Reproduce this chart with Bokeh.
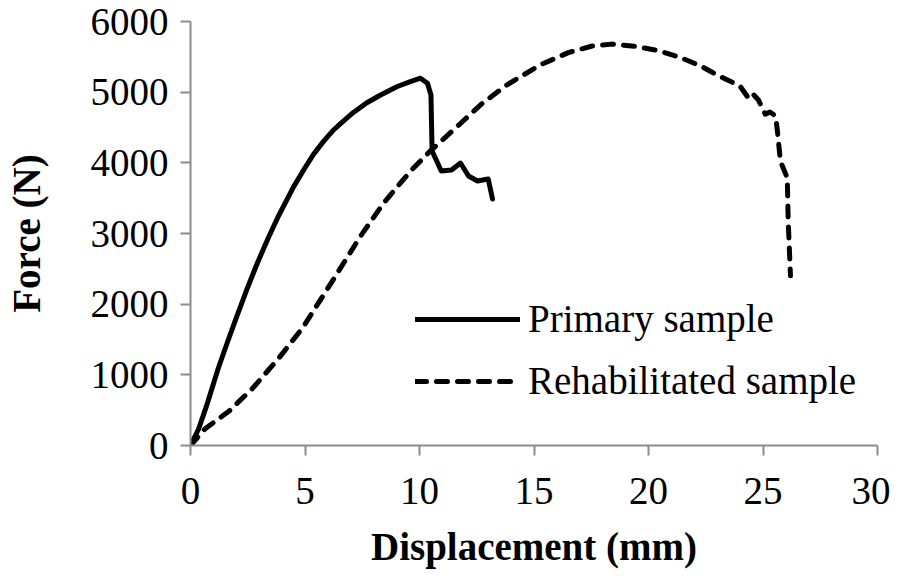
from bokeh.plotting import figure
from bokeh.models import Range1d, Legend, LegendItem, FixedTicker
from bokeh.embed import file_html
from bokeh.resources import INLINE

# Primary sample (displacement mm, force N)
primary_x = [0, 0.35, 0.7, 1.22, 1.6, 1.97, 2.45, 2.93, 3.4, 3.8, 4.5, 5.0, 5.37, 5.8, 6.2, 6.6, 7.1,
             7.7, 8.3, 9.03, 9.6, 10.04, 10.35, 10.5, 10.55, 10.95, 11.4, 11.79, 12.14, 12.53, 13.0, 13.19]
primary_y = [0, 230, 560, 1100, 1450, 1780, 2200, 2590, 2940, 3220, 3660, 3930, 4120, 4300, 4450, 4570, 4710,
             4850, 4960, 5080, 5150, 5198, 5127, 4960, 4167, 3884, 3900, 3997, 3814, 3743, 3771, 3489]

# Rehabilitated sample
rehab_x = [0, 0.65, 1.66, 2.7, 3.84, 4.9, 6.2, 7.42, 8.43, 9.6, 10.48, 11.8, 12.7, 13.8, 15.3, 16.5,
           17.5, 18.4, 19.4, 20.4, 21.4, 22.3, 23.1, 24.0, 24.4, 24.6, 24.8, 25.1, 25.3, 25.55,
           25.63, 25.76, 26.06, 26.1, 26.2]
rehab_y = [0, 240, 480, 805, 1230, 1667, 2330, 2960, 3430, 3880, 4170, 4560, 4830, 5100, 5390, 5560,
           5650, 5680, 5650, 5590, 5490, 5367, 5226, 5085, 4900, 4960, 4890, 4689, 4720, 4661,
           4449, 4025, 3785, 3178, 2401]

x_ticks = [0, 5, 10, 15, 20, 25, 30]
y_ticks = [0, 1000, 2000, 3000, 4000, 5000, 6000]

FONT = "Liberation Serif"
AXIS_COLOR = "#8c8c8c"
FS = "39px"

p = figure(output_backend="svg", toolbar_location=None,
           frame_width=687, frame_height=424,
           x_range=Range1d(0, 30), y_range=Range1d(0, 6000))
p.min_border_left = 190
p.min_border_top = 21
p.min_border_right = 13
p.min_border_bottom = 125
p.outline_line_color = None
p.xgrid.visible = False
p.ygrid.visible = False
p.background_fill_color = "white"
p.border_fill_color = "white"

r1 = p.line(primary_x, primary_y, line_color="black", line_width=5, line_join="round", line_cap="round")
r2 = p.line(rehab_x, rehab_y, line_color="black", line_width=5, line_dash="11 10", line_cap="round",
            line_join="round")

for ax, ticks in ((p.xaxis, x_ticks), (p.yaxis, y_ticks)):
    ax.ticker = FixedTicker(ticks=ticks)
    ax.axis_line_color = AXIS_COLOR
    ax.axis_line_width = 2
    ax.major_tick_line_color = AXIS_COLOR
    ax.major_tick_line_width = 2
    ax.major_tick_out = 10
    ax.major_tick_in = 0
    ax.minor_tick_line_color = None
    ax.major_label_text_font = FONT
    ax.major_label_text_font_size = FS
    ax.major_label_text_color = "black"
    ax.axis_label_text_font = FONT
    ax.axis_label_text_font_size = FS
    ax.axis_label_text_font_style = "bold"
    ax.axis_label_text_color = "black"

p.xaxis.axis_label = "Displacement (mm)"
p.yaxis.axis_label = "Force (N)"
p.xaxis.major_label_standoff = 22
p.yaxis.major_label_standoff = 12
p.xaxis.axis_label_standoff = 18
p.yaxis.axis_label_standoff = 40

legend = Legend(items=[LegendItem(label="Primary sample", renderers=[r1]),
                       LegendItem(label="Rehabilitated sample", renderers=[r2])],
                location=(225, 42))
legend.label_text_font = FONT
legend.label_text_font_size = FS
legend.label_text_color = "black"
legend.glyph_width = 105
legend.glyph_height = 40
legend.label_height = 40
legend.label_standoff = 8
legend.spacing = 17
legend.padding = 0
legend.margin = 0
legend.border_line_alpha = 0
legend.background_fill_alpha = 0
p.add_layout(legend)

open("out.html", "w").write(file_html(p, INLINE))
